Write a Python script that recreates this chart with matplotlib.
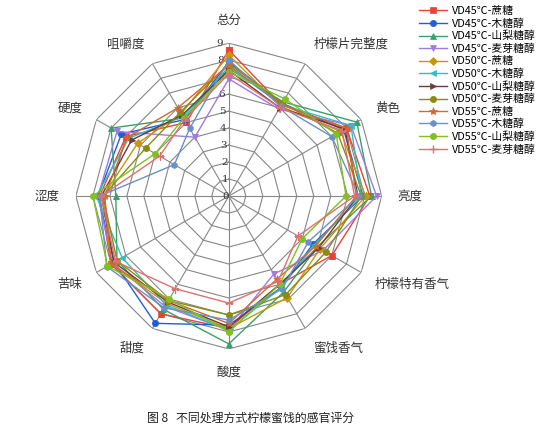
import numpy as np
import matplotlib
matplotlib.use("Agg")
import matplotlib.pyplot as plt

plt.rcParams["font.family"] = ["Noto Sans CJK SC", "DejaVu Sans"]

# ── data ──────────────────────────────────────────────────────────────────────
attributes = ["总分", "柠檬片完整度", "黄色", "亮度", "柠檬特有香气", "蜜饯香气",
              "酸度", "甜度", "苦味", "涩度", "硬度", "咀嚼度"]

series_names = ["VD45℃-蔗糖", "VD45℃-木糖醇", "VD45℃-山梨糖醇", "VD45℃-麦芽糖醇",
                "VD50℃-蔗糖", "VD50℃-木糖醇", "VD50℃-山梨糖醇", "VD50℃-麦芽糖醇",
                "VD55℃-蔗糖", "VD55℃-木糖醇", "VD55℃-山梨糖醇", "VD55℃-麦芽糖醇"]

vd45_sucrose = [8.6, 6.2, 8.0, 8.3, 7.0, 6.0, 7.8, 8.0, 8.0, 7.6, 7.0, 5.0]
vd45_xylitol = [7.9, 6.3, 7.8, 7.9, 5.7, 6.2, 7.6, 8.65, 7.8, 7.7, 7.3, 5.2]
vd45_sorbitol = [7.5, 6.4, 8.7, 8.4, 6.0, 6.5, 8.7, 7.7, 7.6, 6.65, 8.0, 5.3]
vd45_maltitol = [6.9, 5.9, 8.3, 8.7, 6.4, 5.3, 7.9, 7.5, 7.9, 7.7, 7.6, 4.0]
vd50_sucrose = [8.3, 6.1, 7.6, 8.05, 6.2, 6.9, 7.8, 7.3, 8.0, 7.4, 6.2, 5.6]
vd50_xylitol = [7.6, 6.2, 8.3, 7.8, 5.8, 6.2, 7.9, 7.4, 7.25, 7.8, 6.8, 5.4]
vd50_sorbitol = [7.4, 6.0, 7.9, 7.6, 6.1, 6.0, 7.7, 7.2, 7.8, 7.5, 6.6, 5.5]
vd50_maltitol = [7.8, 6.3, 7.4, 7.8, 6.6, 6.7, 7.0, 7.1, 7.6, 7.4, 5.65, 5.7]
vd55_sucrose = [7.7, 6.2, 8.0, 7.5, 5.9, 5.65, 7.5, 7.1, 8.0, 7.3, 6.9, 6.0]
vd55_xylitol = [8.0, 6.1, 7.0, 7.65, 5.4, 6.3, 7.3, 7.6, 8.3, 7.6, 3.7, 4.6]
vd55_sorbitol = [7.3, 6.6, 7.3, 6.9, 5.0, 6.0, 8.0, 7.0, 8.25, 8.0, 5.0, 5.3]
vd55_maltitol = [7.2, 6.0, 7.7, 7.4, 4.7, 5.8, 6.3, 6.3, 7.7, 7.5, 4.7, 5.2]

all_series = [vd45_sucrose, vd45_xylitol, vd45_sorbitol, vd45_maltitol,
              vd50_sucrose, vd50_xylitol, vd50_sorbitol, vd50_maltitol,
              vd55_sucrose, vd55_xylitol, vd55_sorbitol, vd55_maltitol]

r_ticks = list(range(0, 10))

# ── style ─────────────────────────────────────────────────────────────────────
colors = ["#e8423b", "#1f5fd6", "#3aa06a", "#a07ae0", "#c8960a", "#2ebfbf",
          "#6e3a3a", "#8a8a10", "#d06a30", "#6a90c8", "#80c020", "#e07070"]
markers = ["s", "o", "^", "v", "D", "<", ">", "o", "*", "h", "o", "+"]

# ── figure ────────────────────────────────────────────────────────────────────
fig = plt.figure(figsize=(5.54, 4.29), dpi=100)
ax = fig.add_axes([0.137, 0.186, 0.552, 0.714], projection="polar")
ax.set_theta_zero_location("N")
ax.set_theta_direction(-1)
ax.set_ylim(0, 9)
ax.grid(False)
ax.spines["polar"].set_visible(False)
ax.set_xticks([])
ax.set_yticks([])

n = len(attributes)
theta = np.arange(n) * 2 * np.pi / n
theta_closed = np.append(theta, theta[0])

# polygon web grid
for lvl in r_ticks[1:]:
    ax.plot(theta_closed, [lvl] * (n + 1), color="#878787", lw=0.8, zorder=1)
for t in theta:
    ax.plot([t, t], [0, 9], color="#878787", lw=0.8, zorder=1)

# radial value labels along the top spoke
for lvl in r_ticks:
    ax.text(-0.035, lvl, str(lvl), ha="right", va="center", fontsize=7.5,
            color="#333333", family="DejaVu Serif")

# attribute labels, pushed outward from each vertex (offsets in px -> pt)
for t, name in zip(theta, attributes):
    dx = 16 * np.sin(t) * 0.72
    dy = 23 * np.cos(t) * 0.72
    s = np.sin(t)
    ha = "center" if abs(s) < 0.1 else ("left" if s > 0 else "right")
    ax.annotate(name, xy=(t, 9), xytext=(dx, dy), textcoords="offset points",
                ha=ha, va="center", fontsize=9, color="#333333")

for vals, name, c, m in zip(all_series, series_names, colors, markers):
    v = vals + vals[:1]
    ms = 6 if m in ("*", "+") else 4.5
    ax.plot(theta_closed, v, color=c, lw=1.0, marker=m, markersize=ms,
            markeredgewidth=1 if m == "+" else 0.5, label=name, zorder=3)

fig.legend(loc="upper left", bbox_to_anchor=(0.745, 1.0), frameon=False,
           fontsize=7.8, handlelength=2.6, labelspacing=0.2, handletextpad=0.5,
           borderaxespad=0.15)

fig.text(0.453, 0.026, "图 8   不同处理方式柠檬蜜饯的感官评分", ha="center",
         va="center", fontsize=8.6, color="#222222")

fig.savefig("out.png", dpi=100)
